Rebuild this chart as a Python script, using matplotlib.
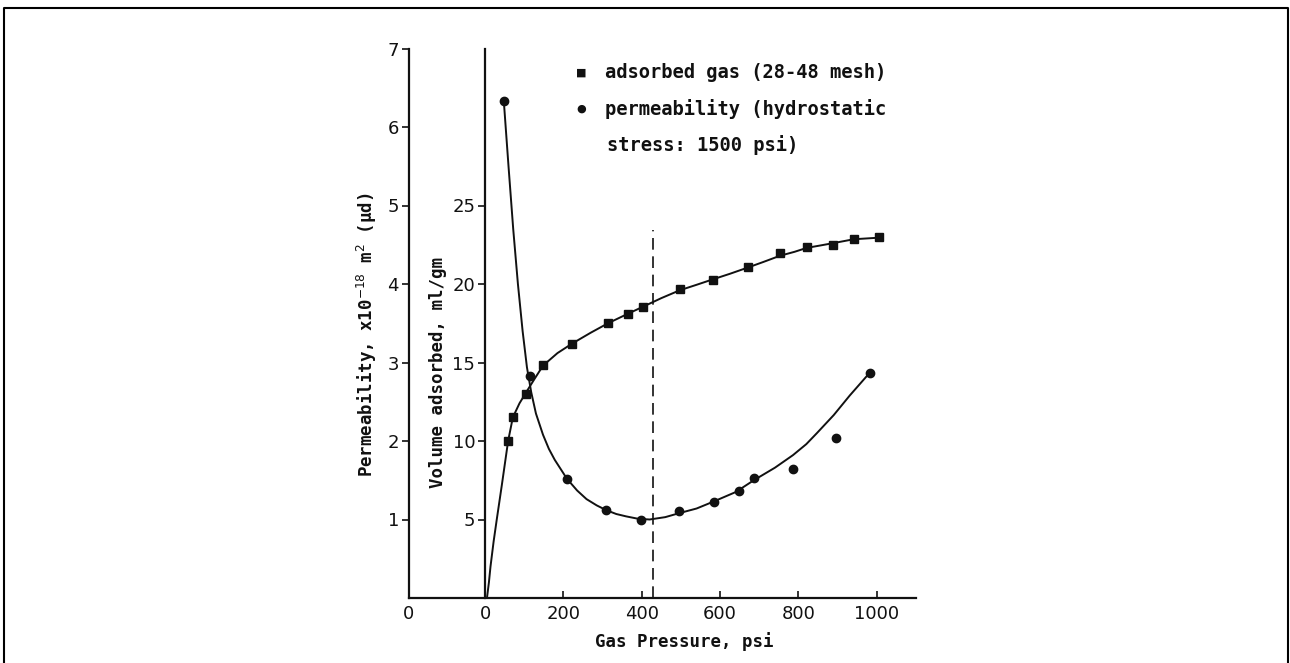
import matplotlib
matplotlib.use("Agg")
import matplotlib.pyplot as plt
from matplotlib.lines import Line2D

ads_p = [59, 71, 105, 148, 222, 314, 365, 403, 497, 582, 671, 753, 821, 888, 941, 1005]
ads_vol = [10.0, 11.5, 13.0, 14.85, 16.2, 17.5, 18.1, 18.55, 19.7, 20.25, 21.1, 21.95, 22.37, 22.5, 22.85, 22.97]

perm_p = [48, 115, 209, 309, 398, 495, 584, 648, 686, 786, 895, 982]
perm_val = [6.33, 2.83, 1.52, 1.12, 1.0, 1.11, 1.22, 1.36, 1.53, 1.64, 2.04, 2.87]

# hand-drawn fit curves
ads_fit_p = [5, 10, 14, 22, 30, 43, 59, 71, 88, 105, 125, 148, 185, 222, 270, 314, 360, 403, 450,
             497, 540, 582, 625, 671, 710, 753, 790, 821, 855, 888, 941, 1005]
ads_fit_vol = [0.0, 1.0, 2.0, 3.6, 5.0, 7.2, 10.0, 11.5, 12.4, 13.1, 13.9, 14.8, 15.6, 16.2, 16.9,
               17.5, 18.05, 18.55, 19.1, 19.6, 19.95, 20.3, 20.65, 21.05, 21.4, 21.8, 22.05, 22.3,
               22.45, 22.6, 22.85, 22.95]

perm_fit_p = [48, 60, 72, 84, 96, 107, 118, 130, 148, 163, 178, 209, 235, 259, 285, 309, 335,
              360, 390, 420, 460, 495, 540, 584, 640, 686, 740, 786, 820, 847, 890, 931, 982]
perm_fit_val = [6.33, 5.5, 4.7, 4.0, 3.4, 2.94, 2.62, 2.35, 2.08, 1.9, 1.76, 1.52, 1.37,
                1.26, 1.18, 1.12, 1.07, 1.04, 1.01, 1.0, 1.03, 1.08, 1.14, 1.23, 1.35, 1.5, 1.66,
                1.82, 1.96, 2.1, 2.33, 2.58, 2.87]

dash_p = 430
dash_top = 4.69

perm_ticks = [1, 2, 3, 4, 5, 6, 7]
vol_ticks = [5, 10, 15, 20, 25]
p_ticks = [-195, 0, 200, 400, 600, 800, 1000]
p_labels = ["0", "0", "200", "400", "600", "800", "1000"]

W, H = 1290, 663
fig = plt.figure(figsize=(W / 100, H / 100), dpi=100)

x0, x1 = 408.6, 916.0
y0, y1 = 598.0, 48.5
ax = fig.add_axes([x0 / W, (H - y0) / H, (x1 - x0) / W, (y0 - y1) / H])
ax.set_xlim(-195, 1100)
ax.set_ylim(0, 7)
for s in ["top", "right"]:
    ax.spines[s].set_visible(False)
for s in ["left", "bottom"]:
    ax.spines[s].set_linewidth(1.6)
    ax.spines[s].set_color("#111111")

tick_font = dict(family="DejaVu Sans", size=13)
ax.set_yticks(perm_ticks)
ax.set_yticklabels([str(t) for t in perm_ticks], **tick_font)
ax.set_xticks(p_ticks)
ax.set_xticklabels(p_labels, **tick_font)
ax.tick_params(axis="y", direction="out", length=5, width=1.2, pad=2, colors="#111111")
ax.tick_params(axis="x", direction="in", length=5, width=1.2, pad=5, colors="#111111")

# second y axis sitting at zero pressure
ax2 = ax.twinx()
ax2.set_ylim(0, 35)
ax2.spines["right"].set_visible(False)
ax2.spines["top"].set_visible(False)
ax2.spines["bottom"].set_visible(False)
ax2.spines["left"].set_position(("data", 0))
ax2.spines["left"].set_linewidth(1.6)
ax2.spines["left"].set_color("#111111")
ax2.yaxis.set_ticks_position("left")
ax2.set_yticks(vol_ticks)
ax2.set_yticklabels([str(t) for t in vol_ticks], **tick_font)
ax2.tick_params(axis="y", direction="out", length=5, width=1.2, pad=2, colors="#111111")

# axis titles (typewriter-like, wide spacing)
lab_font = dict(family="DejaVu Sans Mono", weight="bold", size=12.5, color="#111111")
fig.text(367 / W, 1 - 335 / H, "Permeability, x10$^{-18}$ m$^2$ (\u03bcd)", rotation=90,
         ha="center", va="center", **lab_font)
fig.text(438 / W, 1 - 372 / H, "Volume adsorbed, ml/gm", rotation=90,
         ha="center", va="center", **lab_font)
fig.text(684 / W, 1 - 642 / H, "Gas Pressure, psi", ha="center", va="center", **lab_font)

# curves and points
ax2.plot(ads_fit_p, ads_fit_vol, color="#111111", lw=1.4)
ax2.plot(ads_p, ads_vol, ls="none", marker="s", ms=5.5, color="#111111")
ax.plot(perm_fit_p, perm_fit_val, color="#111111", lw=1.4)
ax.plot(perm_p, perm_val, ls="none", marker="o", ms=6, color="#111111")
ax.axvline(dash_p, ymin=0, ymax=dash_top / 7, color="#111111", lw=1.2, ls=(0, (7, 4)))

# legend written as text
leg_font = dict(family="DejaVu Sans Mono", weight="bold", size=13.5, color="#111111", va="center")
fig.text(576 / W, 1 - 73 / H, "\u25a0", fontsize=8, color="#111111", va="center")
fig.text(605 / W, 1 - 73 / H, "adsorbed gas (28-48 mesh)", **leg_font)
fig.text(576 / W, 1 - 109 / H, "\u25cf", fontsize=8, color="#111111", va="center")
fig.text(605 / W, 1 - 109 / H, "permeability (hydrostatic", **leg_font)
fig.text(607 / W, 1 - 145 / H, "stress: 1500 psi)", **leg_font)

# page frame (open at the bottom)
fig.add_artist(Line2D([4 / W, 4 / W, 1288 / W, 1288 / W], [0, 1 - 8 / H, 1 - 8 / H, 0],
                      transform=fig.transFigure, color="black", lw=1.5))

fig.savefig("out.png", dpi=100)
